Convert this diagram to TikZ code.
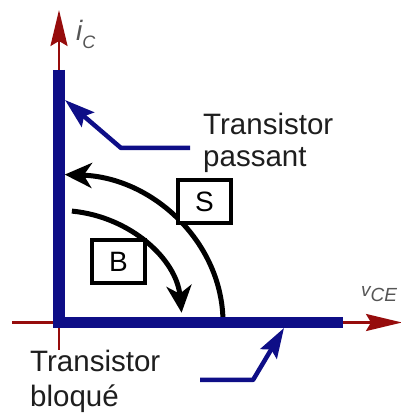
\documentclass[tikz,border=0pt]{standalone}
\usepackage{fontspec}
\setmainfont{Liberation Sans}
\usetikzlibrary{arrows.meta}
\definecolor{navy}{RGB}{14,14,135}
\definecolor{axisred}{RGB}{150,12,12}
\definecolor{lbl}{RGB}{30,30,30}
\definecolor{axlbl}{RGB}{85,85,85}
\begin{document}
\begin{tikzpicture}[x=1pt,y=1pt,
  axis/.style={draw=axisred, line width=2.5pt},
  bar/.style={draw=navy, line width=11.5pt, line join=miter},
  pointer/.style={draw=navy, line width=4.5pt, line join=round, -{Stealth[length=30pt,width=19pt,inset=5pt]}},
  swarc/.style={draw=black, line width=5pt, -{Stealth[length=27pt,width=25pt,inset=8pt]}},
  statebox/.style={draw=black, line width=3.5pt, fill=white, minimum width=53pt, minimum height=43pt, inner sep=0pt, font=\fontsize{28}{28}\selectfont},
  lab/.style={text=lbl, font=\fontsize{29.5}{30}\selectfont, inner sep=0pt, anchor=base west}
]
\useasboundingbox (0,0) rectangle (400,414);
% axes
\coordinate (ybot) at (59,64);
\coordinate (ytop) at (59,404);
\coordinate (xleft) at (12,91.5);
\coordinate (xright) at (402,91.5);
\draw[axis, -{Stealth[length=36pt,width=17pt,inset=5pt]}] (ybot) -- (ytop);
\draw[axis, -{Stealth[length=36pt,width=17pt,inset=5pt]}] (xleft) -- (xright);
\node[text=axlbl, inner sep=0pt, anchor=base west] (ic) at (76,373)
  {\fontsize{28}{28}\selectfont\itshape i\raisebox{-0.28em}{\fontsize{18}{18}\selectfont C}};
\node[text=axlbl, inner sep=0pt, anchor=base west] (vce) at (361,117)
  {\fontsize{19}{19}\selectfont\itshape v\raisebox{-0.25em}{CE}};
% switching arcs
\coordinate (sstart) at (223,91.5);
\coordinate (bstart) at (71.9,202.9);
\draw[swarc] (sstart) arc[start angle=0, end angle=88, x radius=164, y radius=148];
\draw[swarc] (bstart) arc[start angle=84, end angle=5, x radius=123, y radius=112];
\node[statebox] (S) at (204.5,212.5) {S};
\node[statebox] (B) at (118.5,152.5) {B};
% characteristic
\coordinate (vtop) at (59,344);
\coordinate (corner) at (59,91.5);
\coordinate (hend) at (343,91.5);
\draw[bar] (vtop) -- (corner) -- (hend);
% labels
\node[lab] (p1) at (203,279) {Transistor};
\node[lab] (p2) at (203,247) {passant};
\node[lab] (b1) at (30,42) {Transistor};
\node[lab] (b2) at (30,8) {bloqué};
% pointers
\coordinate (pstart) at (190,266);
\coordinate (pbend) at (121,266);
\coordinate (ptip) at (65,314);
\draw[pointer] (pstart) -- (pbend) -- (ptip);
\coordinate (qstart) at (200,34);
\coordinate (qbend) at (253,34);
\coordinate (qtip) at (284,86);
\draw[pointer] (qstart) -- (qbend) -- (qtip);
\end{tikzpicture}
\end{document}
